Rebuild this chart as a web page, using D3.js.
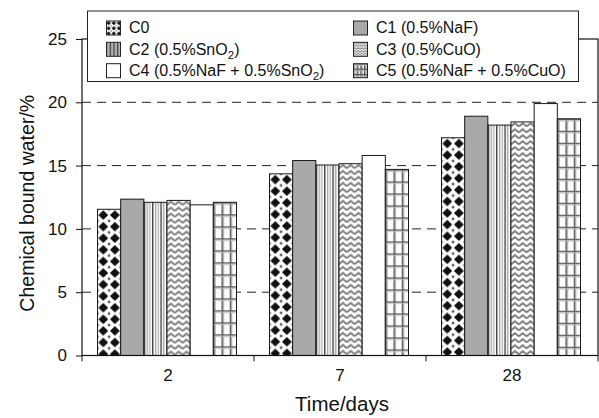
<!DOCTYPE html>
<html><head><meta charset="utf-8">
<script src="https://cdn.jsdelivr.net/npm/d3@7"></script>
<style>
html,body{margin:0;padding:0;background:#fff;}
svg{display:block;font-family:"Liberation Sans",Arial,Helvetica,sans-serif;}
</style></head>
<body>
<svg id="chart" width="599" height="418"></svg>
<script>
// ---- data ----
const categories = ["2", "7", "28"];
const seriesKeys = ["C0", "C1", "C2", "C3", "C4", "C5"];
const seriesLabels = [
  ["C0"],
  ["C1 (0.5%NaF)"],
  ["C2 (0.5%SnO", "2", ")"],
  ["C3 (0.5%CuO)"],
  ["C4 (0.5%NaF + 0.5%SnO", "2", ")"],
  ["C5 (0.5%NaF + 0.5%CuO)"]
];
const C0 = [11.55, 14.35, 17.2];
const C1 = [12.35, 15.4, 18.9];
const C2 = [12.1, 15.05, 18.2];
const C3 = [12.25, 15.15, 18.45];
const C4 = [11.9, 15.8, 19.9];
const C5 = [12.1, 14.7, 18.7];
const seriesValues = [C0, C1, C2, C3, C4, C5];
const yTicks = [0, 5, 10, 15, 20, 25];
const gridValues = [5, 10, 15, 20];

// ---- layout ----
const svg = d3.select("#chart");
const L = 82, R = 598, T = 39, B = 355.5;
const x = d3.scaleBand().domain(categories).range([L, R]).padding(0);
const xi = d3.scaleBand().domain(seriesKeys).range([15.5, 154.5]).padding(0);
const y = d3.scaleLinear().domain([0, 25]).range([B, T]);
const bw = xi.bandwidth();

const defs = svg.append("defs");

// pattern builders
function makePattern(id, key, ox, oy, s) {
  const p = defs.append("pattern").attr("id", id).attr("patternUnits", "userSpaceOnUse");
  if (key === "C0") {
    const w = bw / 2 * s, h = bw / 2 * s, r = 4.9 * s;
    p.attr("width", w).attr("height", h).attr("x", ox).attr("y", oy);
    p.append("rect").attr("width", w).attr("height", h).attr("fill", "#fff");
    p.append("path").attr("d", `M${w/2},${h/2-r}L${w/2+r},${h/2}L${w/2},${h/2+r}L${w/2-r},${h/2}Z`).attr("fill", "#111");
    const c = r * 0.35;
    [[0,0],[w,0],[0,h],[w,h]].forEach(([cx,cy]) =>
      p.append("path").attr("d", `M${cx},${cy-c}L${cx+c},${cy}L${cx},${cy+c}L${cx-c},${cy}Z`).attr("fill", "#555"));
  } else if (key === "C1") {
    p.attr("width", 4).attr("height", 4);
    p.append("rect").attr("width", 4).attr("height", 4).attr("fill", "#a9a9a9");
  } else if (key === "C2") {
    const w = 8.3 * s;
    p.attr("width", w).attr("height", 4).attr("x", ox);
    p.append("rect").attr("width", w).attr("height", 4).attr("fill", "#fff");
    p.append("rect").attr("x", 0).attr("width", 1.3).attr("height", 4).attr("fill", "#333");
    p.append("rect").attr("x", w * 0.36).attr("width", 1).attr("height", 4).attr("fill", "#888");
    p.append("rect").attr("x", w * 0.68).attr("width", 1).attr("height", 4).attr("fill", "#999");
  } else if (key === "C3") {
    const w = 7.8 * s, h = 6 * s;
    p.attr("width", w).attr("height", h).attr("x", ox).attr("y", oy);
    p.append("rect").attr("width", w).attr("height", h).attr("fill", "#fff");
    p.append("path").attr("d", `M0,${h*0.75}L${w/2},${h*0.2}L${w},${h*0.75}`)
      .attr("fill", "none").attr("stroke", "#7a7a7a").attr("stroke-width", 1.8 * Math.max(s, 0.6));
  } else if (key === "C4") {
    p.attr("width", 4).attr("height", 4);
    p.append("rect").attr("width", 4).attr("height", 4).attr("fill", "#fff");
  } else if (key === "C5") {
    const w = 8.2 * s, h = 12 * s;
    p.attr("width", w).attr("height", h).attr("x", ox).attr("y", oy);
    p.append("rect").attr("width", w).attr("height", h).attr("fill", "#fff");
    p.append("rect").attr("x", 0).attr("width", 1.4).attr("height", h).attr("fill", "#444");
    p.append("rect").attr("x", 1.6).attr("width", 1).attr("height", h).attr("fill", "#bbb");
    p.append("rect").attr("y", 0).attr("width", w).attr("height", 1.4).attr("fill", "#555");
    p.append("rect").attr("y", 1.6).attr("width", w).attr("height", 1).attr("fill", "#c4c4c4");
  }
  return "url(#" + id + ")";
}

// frame background
svg.append("rect").attr("x", L).attr("y", T).attr("width", R - L).attr("height", B - T).attr("fill", "#fff");

// dashed gridlines
svg.append("g").selectAll("line").data(gridValues).join("line")
  .attr("x1", L).attr("x2", R).attr("y1", d => y(d)).attr("y2", d => y(d))
  .attr("stroke", "#222").attr("stroke-width", 1).attr("stroke-dasharray", "9,6");

// bars
const barData = [];
categories.forEach((c, ci) => {
  seriesKeys.forEach((k, si) => {
    barData.push({ c, k, ci, si, v: seriesValues[si][ci] });
  });
});
barData.forEach(d => {
  d.x0 = x(d.c) + xi(d.k);
  d.fill = makePattern(`p-${d.k}-${d.ci}`, d.k, d.x0, y(d.v), 1);
});
svg.append("g").selectAll("rect").data(barData).join("rect")
  .attr("x", d => d.x0).attr("y", d => y(d.v))
  .attr("width", bw).attr("height", d => y(0) - y(d.v))
  .attr("fill", d => d.fill)
  .attr("stroke", "#1a1a1a").attr("stroke-width", 1);

// frame lines
svg.append("rect").attr("x", L).attr("y", T).attr("width", R - L).attr("height", B - T)
  .attr("fill", "none").attr("stroke", "#111").attr("stroke-width", 1.2);

// y axis
const yAxis = d3.axisLeft(y).tickValues(yTicks).tickSize(6).tickPadding(9).tickFormat(d3.format("d"));
const gy = svg.append("g").attr("transform", `translate(${L},0)`).call(yAxis);
gy.select(".domain").remove();
gy.selectAll("line").attr("stroke", "#111");
gy.selectAll("text").attr("font-size", 17).attr("fill", "#111").attr("font-family", "Liberation Sans, Arial, sans-serif");

// x axis (ticks at category boundaries)
const gx = svg.append("g").attr("transform", `translate(0,${B})`);
gx.selectAll("line").data(d3.range(categories.length + 1)).join("line")
  .attr("x1", i => L + i * x.bandwidth()).attr("x2", i => L + i * x.bandwidth())
  .attr("y1", 0).attr("y2", 6).attr("stroke", "#111");
gx.selectAll("text").data(categories).join("text")
  .attr("x", d => x(d) + x.bandwidth() / 2).attr("y", 25)
  .attr("text-anchor", "middle").attr("font-size", 17).attr("fill", "#111").text(d => d);

// axis titles
svg.append("text").attr("transform", `translate(34,${(T + B) / 2 + 6}) rotate(-90)`)
  .attr("text-anchor", "middle").attr("font-size", 19.5).attr("fill", "#111").text("Chemical bound water/%");
svg.append("text").attr("x", (L + R) / 2 + 2).attr("y", 411)
  .attr("text-anchor", "middle").attr("font-size", 20.5).attr("fill", "#111").text("Time/days");

// legend
const lg = svg.append("g");
lg.append("rect").attr("x", 87.5).attr("y", 11).attr("width", 491).attr("height", 70.5)
  .attr("fill", "#fff").attr("stroke", "#222").attr("stroke-width", 1);
const colX = [106, 353];
const rowY = [20.5, 41.8, 63.2];
seriesKeys.forEach((k, i) => {
  const cx = colX[i % 2], cy = rowY[Math.floor(i / 2)];
  const fill = makePattern(`lp-${k}`, k, cx, cy, 0.45);
  lg.append("rect").attr("x", cx + 0.5).attr("y", cy + 0.5).attr("width", 14).attr("height", 14)
    .attr("fill", fill).attr("stroke", "#222").attr("stroke-width", 1);
  const t = lg.append("text").attr("x", cx + 23).attr("y", cy + 12.8)
    .attr("font-size", 16).attr("fill", "#111");
  const parts = seriesLabels[i];
  t.append("tspan").text(parts[0]);
  if (parts.length > 1) {
    t.append("tspan").attr("font-size", 11.5).attr("dy", 4).text(parts[1]);
    t.append("tspan").attr("dy", -4).text(parts[2]);
  }
});
</script>
</body></html>
